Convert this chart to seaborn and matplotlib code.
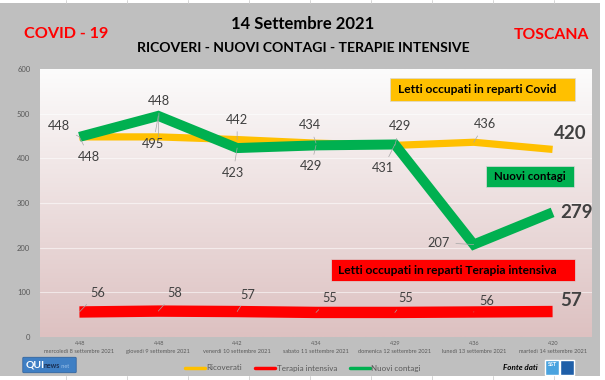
import numpy as np
import pandas as pd
import matplotlib
matplotlib.use("Agg")
import matplotlib.pyplot as plt
from matplotlib.patches import Rectangle, FancyBboxPatch
from matplotlib.lines import Line2D
import seaborn as sns

# data
giorni = ["mercoledì 8 settembre 2021", "giovedì 9 settembre 2021", "venerdì 10 settembre 2021",
          "sabato 11 settembre 2021", "domenica 12 settembre 2021", "lunedì 13 settembre 2021",
          "martedì 14 settembre 2021"]
ricoverati = [448, 448, 442, 434, 429, 436, 420]
terapia_intensiva = [56, 58, 57, 55, 55, 56, 57]
nuovi_contagi = [448, 495, 423, 429, 431, 207, 279]

GIALLO = "#FFC000"
ROSSO = "#FF0000"
VERDE = "#00B050"
GRIGIO_TXT = "#404040"

sns.set_style("white")
plt.rcParams["font.family"] = ["Lato", "DejaVu Sans"]

W, H = 605, 380
fig = plt.figure(figsize=(W / 100, H / 100), dpi=100, facecolor="#bfbfbf")


def fx(x):
    return x / W


def fy(y):
    return 1 - y / H


ax = fig.add_axes([fx(40), fy(337), fx(592) - fx(40), fy(69) - fy(337)])

n = len(giorni)
df = pd.DataFrame({"giorno": np.arange(n), "Ricoverati": ricoverati,
                   "Terapia intensiva": terapia_intensiva, "Nuovi contagi": nuovi_contagi})

# gradient background of the plot area
top = np.array([252, 252, 252]) / 255
bot = np.array([221, 193, 193]) / 255
grad = np.linspace(0, 1, 256)[:, None, None] * (bot - top) + top
ax.imshow(grad, extent=[-0.5, n - 0.5, 0, 600], aspect="auto", zorder=0, origin="upper")

for yv in range(100, 600, 100):
    ax.axhline(yv, color="white", lw=0.8, alpha=0.55, zorder=1)

sns.lineplot(data=df, x="giorno", y="Ricoverati", color=GIALLO, lw=5.2, ax=ax, zorder=2,
             solid_capstyle="butt", label="Ricoverati")
sns.lineplot(data=df, x="giorno", y="Terapia intensiva", color=ROSSO, lw=8.2, ax=ax, zorder=3,
             solid_capstyle="butt", label="Terapia intensiva")
sns.lineplot(data=df, x="giorno", y="Nuovi contagi", color=VERDE, lw=7.2, ax=ax, zorder=4,
             solid_capstyle="butt", solid_joinstyle="miter", label="Nuovi contagi")
ax.get_legend().remove()

ax.set_xlim(-0.5, n - 0.5)
ax.set_ylim(0, 600)
ax.set_yticks(range(0, 700, 100))
ax.set_yticklabels([str(v) for v in range(0, 700, 100)], fontsize=5.5, color="#595959")
ax.set_xticks(range(n))
ax.set_xticklabels([f"{r}\n{g}" for r, g in zip(ricoverati, giorni)], fontsize=4.1,
                   color="#595959", linespacing=1.6)
ax.tick_params(axis="both", length=0)
ax.tick_params(axis="y", pad=7)
ax.tick_params(axis="x", pad=3)
ax.set_xlabel("")
ax.set_ylabel("")
for s in ax.spines.values():
    s.set_visible(False)

# data labels: offsets in pixels (dx right, dy up)
off_ric = [(-20, 11), (1, 36), (0, 20), (-6, 18), (5, 19), (11, 18), (18, 16)]
off_nc = [(10, -20), (-5, -28), (-4, -25), (-5, -21), (-12, -24), (-35, 2), (24, 0)]
off_ti = [(18, 19), (16, 18), (11, 17), (14, 14), (11, 14), (13, 11), (18, 11)]

leader = dict(arrowstyle="-", color="#a6a6a6", lw=0.5, shrinkB=0)
for serie, offs in [(ricoverati, off_ric), (nuovi_contagi, off_nc), (terapia_intensiva, off_ti)]:
    for i, (v, (dx, dy)) in enumerate(zip(serie, offs)):
        last = i == n - 1
        ax.annotate(str(v), xy=(i, v), xytext=(dx * 0.72, dy * 0.72), textcoords="offset points",
                    ha="center", va="center", fontsize=13.5 if last else 9.2,
                    fontweight="bold" if last else "normal", color=GRIGIO_TXT, zorder=6,
                    arrowprops=None if last else leader)

# titles
fig.text(fx(303), fy(24), "14 Settembre 2021", ha="center", va="center", fontsize=12,
         fontweight="bold", color="black")
fig.text(fx(303), fy(48), "RICOVERI - NUOVI CONTAGI - TERAPIE INTENSIVE", ha="center",
         va="center", fontsize=10.1, fontweight="bold", color="black")
fig.text(fx(66), fy(34), "COVID - 19", ha="center", va="center", fontsize=11.6,
         fontweight="bold", color="#ff0000")
fig.text(fx(551), fy(35), "TOSCANA", ha="center", va="center", fontsize=11.3,
         fontweight="bold", color="#ff0000")

# coloured callout boxes
boxes = [(390, 78, 575, 101, GIALLO, "Letti occupati in reparti Covid", 398, "left"),
         (486, 166, 574, 187, VERDE, "Nuovi contagi", 530, "center"),
         (331, 259, 575, 281, ROSSO, "Letti occupati in reparti Terapia intensiva", 338, "left")]
for x0, y0, x1, y1, col, txt, tx, ha in boxes:
    fig.patches.append(Rectangle((fx(x0), fy(y1)), fx(x1) - fx(x0), fy(y0) - fy(y1),
                                 transform=fig.transFigure, facecolor=col,
                                 edgecolor="#d9d9d9", lw=0.5, zorder=5))
    fig.text(fx(tx), fy((y0 + y1) / 2), txt, ha=ha, va="center",
             fontsize=8.3 if ha == "center" else 8.65,
             fontweight="bold", color="black", zorder=6)

# legend
handles = [Line2D([], [], color=GIALLO, lw=2.5), Line2D([], [], color=ROSSO, lw=2.5),
           Line2D([], [], color=VERDE, lw=2.5)]
leg = fig.legend(handles, ["Ricoverati", "Terapia intensiva", "Nuovi contagi"], ncol=3,
                 loc="center", bbox_to_anchor=(fx(303), fy(368)), frameon=False, fontsize=5.8,
                 handlelength=2.5, handletextpad=0.15, columnspacing=1.6, labelcolor="#595959")

# logos
fig.patches.append(FancyBboxPatch((fx(24), fy(372)), fx(51), fy(358) - fy(372),
                                  boxstyle="round,pad=0.002", transform=fig.transFigure,
                                  facecolor="#3f7fc4", edgecolor="#2a5d99", lw=0.5))
fig.text(fx(26), fy(365), "QUI", ha="left", va="center", fontsize=7.5, fontweight="bold",
         color="white")
fig.text(fx(44), fy(366), "news", ha="left", va="center", fontsize=5, fontweight="bold",
         color="#1a2e50")
fig.text(fx(61), fy(366), ".net", ha="left", va="center", fontsize=4, color="#9fc3ea")

fig.text(fx(538), fy(367), "Fonte dati", ha="right", va="center", fontsize=5.8,
         fontweight="bold", style="italic", color="black")
fig.patches.append(Rectangle((fx(545), fy(375)), fx(14), fy(360) - fy(375),
                             transform=fig.transFigure, facecolor="#4aa3df"))
fig.patches.append(Rectangle((fx(560), fy(375)), fx(14), fy(360) - fy(375),
                             transform=fig.transFigure, facecolor="#1f5fa8"))
fig.text(fx(552), fy(365), "SST", ha="center", va="center", fontsize=4, fontweight="bold",
         color="white")

# spreadsheet strips around the picture
for y0, y1 in [(0, 3), (376, 380)]:
    fig.patches.append(Rectangle((0, fy(y1)), 1, fy(y0) - fy(y1), transform=fig.transFigure,
                                 facecolor="white", edgecolor="none"))
    for xc in range(66, 600, 61):
        fig.lines.append(Line2D([fx(xc), fx(xc)], [fy(y1), fy(y0)], transform=fig.transFigure,
                                color="#d0d0d0", lw=0.6))
fig.patches.append(Rectangle((fx(600), 0), fx(5), 1, transform=fig.transFigure,
                             facecolor="white", edgecolor="none"))

fig.savefig("out.png", dpi=100, facecolor=fig.get_facecolor())
